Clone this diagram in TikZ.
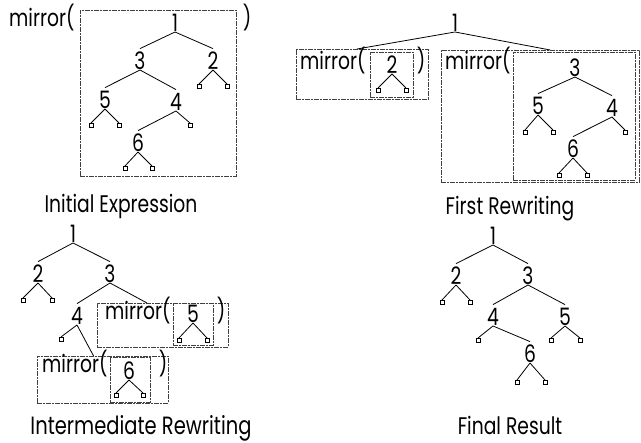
\documentclass[tikz,border=0pt]{standalone}
\usepackage{fontspec}
\setmainfont{Poppins}[FakeStretch=0.78]
\usetikzlibrary{calc}
\begin{document}
\begin{tikzpicture}[x=1pt,y=-1pt,
  txt/.style={inner sep=0pt, font=\fontsize{24}{24}\selectfont},
  dig/.style={txt, text height=21pt, text depth=0pt, anchor=south},
  leaf/.style={draw, rectangle, inner sep=0pt, minimum size=4pt, line width=0.6pt, anchor=north},
  edge/.style={line width=0.8pt},
  dbox/.style={draw=black!75, line width=0.6pt, dash pattern=on 5pt off 1pt on 2pt off 1pt, rectangle, inner sep=0pt, anchor=north west},
  mtext/.style={txt, anchor=base west},
  ptext/.style={txt, anchor=base},
  caption/.style={txt, anchor=base, text depth=0pt}]
\useasboundingbox (0,0) rectangle (641,443);

% ---------- Panel 1: Initial Expression ----------
\node[mtext] (m1) at (9,26.5) {mirror(};
\node[dbox, minimum width=156pt, minimum height=166pt] (bx1) at (80,10) {};
\node[ptext] (p1) at (247,26.5) {)};
\node[dig] (a1) at (175,32) {1};
\node[dig] (a3) at (140,70) {3};
\node[dig] (a2) at (213,70) {2};
\node[dig] (a5) at (105,109) {5};
\node[dig] (a4) at (176,111) {4};
\node[dig] (a6) at (138,152) {6};
\node[leaf] (a2l) at (199,84) {};
\node[leaf] (a2r) at (227,84) {};
\node[leaf] (a5l) at (91,123) {};
\node[leaf] (a5r) at (119,123) {};
\node[leaf] (a4r) at (190,123) {};
\node[leaf] (a6l) at (125,166) {};
\node[leaf] (a6r) at (152,166) {};
\draw[edge] (a1.south) -- (a3.north) (a1.south) -- (a2.north)
  (a3.south) -- (a5.north) (a3.south) -- (a4.north)
  (a2.south) -- (a2l.north) (a2.south) -- (a2r.north)
  (a5.south) -- (a5l.north) (a5.south) -- (a5r.north)
  (a4.south) -- (a6.north) (a4.south) -- (a4r.north)
  (a6.south) -- (a6l.north) (a6.south) -- (a6r.north);
\node[caption] (c1) at (121,213) {Initial Expression};

% ---------- Panel 2: First Rewriting ----------
\node[dig] (b1) at (455,32) {1};
\node[dbox, minimum width=132pt, minimum height=50pt] (bxL) at (296,49) {};
\node[dbox, minimum width=43pt, minimum height=45pt] (bxLi) at (370,52) {};
\node[mtext] (mL) at (300,70) {mirror(};
\node[ptext] (pL) at (421,70) {)};
\node[dig] (b2) at (392,74) {2};
\node[leaf] (b2l) at (378,88) {};
\node[leaf] (b2r) at (406,88) {};
\draw[edge] (b2.south) -- (b2l.north) (b2.south) -- (b2r.north);

\node[dbox, minimum width=198pt, minimum height=132pt] (bxR) at (441,50) {};
\node[dbox, minimum width=122pt, minimum height=128pt] (bxRi) at (513,52) {};
\node[mtext] (mR) at (445,70) {mirror(};
\node[dig] (b3) at (575,77) {3};
\node[dig] (b5) at (538,115) {5};
\node[dig] (b4) at (612,117) {4};
\node[dig] (b6) at (573,158) {6};
\node[leaf] (b5l) at (525,130) {};
\node[leaf] (b5r) at (553,130) {};
\node[leaf] (b4r) at (625,130) {};
\node[leaf] (b6l) at (559,173) {};
\node[leaf] (b6r) at (587,173) {};
\draw[edge] (b1.south) -- ($(bxL.north west)!0.46!(bxL.north east)$)
  (b1.south) -- ($(bxR.north west)!0.55!(bxR.north east)$)
  (b3.south) -- (b5.north) (b3.south) -- (b4.north)
  (b5.south) -- (b5l.north) (b5.south) -- (b5r.north)
  (b4.south) -- (b6.north) (b4.south) -- (b4r.north)
  (b6.south) -- (b6l.north) (b6.south) -- (b6r.north);
\node[caption] (c2) at (510,215) {First Rewriting};

% ---------- Panel 3: Intermediate Rewriting ----------
\node[dig] (c1n) at (73,243) {1};
\node[dig] (c2n) at (38,283) {2};
\node[dig] (c3n) at (110,283) {3};
\node[dig] (c4n) at (77,325) {4};
\node[leaf] (c2l) at (23,298) {};
\node[leaf] (c2r) at (52,298) {};
\node[leaf] (c4l) at (61,337) {};
\node[dbox, minimum width=131pt, minimum height=44pt] (bx5) at (97,303) {};
\node[dbox, minimum width=40pt, minimum height=42pt] (bx5i) at (173,303) {};
\node[mtext] (m5) at (105,320) {mirror(};
\node[ptext] (p5) at (221,320) {)};
\node[dig] (c5n) at (193,323) {5};
\node[leaf] (c5l) at (179,338) {};
\node[leaf] (c5r) at (207,338) {};
\node[dbox, minimum width=131pt, minimum height=47pt] (bx6) at (37,356) {};
\node[dbox, minimum width=40pt, minimum height=45pt] (bx6i) at (110,357) {};
\node[mtext] (m6) at (42,373) {mirror(};
\node[ptext] (p6) at (163,373) {)};
\node[dig] (c6n) at (129,380) {6};
\node[leaf] (c6l) at (116,393) {};
\node[leaf] (c6r) at (143,393) {};
\draw[edge] (c1n.south) -- (c2n.north) (c1n.south) -- (c3n.north)
  (c2n.south) -- (c2l.north) (c2n.south) -- (c2r.north)
  (c3n.south) -- (c4n.north)
  (c3n.south) -- ($(bx5.north west)!0.38!(bx5.north east)$)
  (c4n.south) -- (c4l.north)
  (c4n.south) -- ($(bx6.north west)!0.43!(bx6.north east)$)
  (c5n.south) -- (c5l.north) (c5n.south) -- (c5r.north)
  (c6n.south) -- (c6l.north) (c6n.south) -- (c6r.north);
\node[caption, font=\fontsize{25}{25}\selectfont] (c3) at (141,435) {Intermediate Rewriting};

% ---------- Panel 4: Final Result ----------
\node[dig] (d1) at (493,245) {1};
\node[dig] (d2) at (456,285) {2};
\node[dig] (d3) at (528,285) {3};
\node[dig] (d4) at (493,326) {4};
\node[dig] (d5) at (565,326) {5};
\node[dig] (d6) at (530,363) {6};
\node[leaf] (d2l) at (442,300) {};
\node[leaf] (d2r) at (470,300) {};
\node[leaf] (d4l) at (478,338) {};
\node[leaf] (d5l) at (551,338) {};
\node[leaf] (d5r) at (580,338) {};
\node[leaf] (d6l) at (517,380) {};
\node[leaf] (d6r) at (545,380) {};
\draw[edge] (d1.south) -- (d2.north) (d1.south) -- (d3.north)
  (d2.south) -- (d2l.north) (d2.south) -- (d2r.north)
  (d3.south) -- (d4.north) (d3.south) -- (d5.north)
  (d4.south) -- (d4l.north) (d4.south) -- (d6.north)
  (d5.south) -- (d5l.north) (d5.south) -- (d5r.north)
  (d6.south) -- (d6l.north) (d6.south) -- (d6r.north);
\node[caption] (c4) at (510,435) {Final Result};
\end{tikzpicture}
\end{document}
